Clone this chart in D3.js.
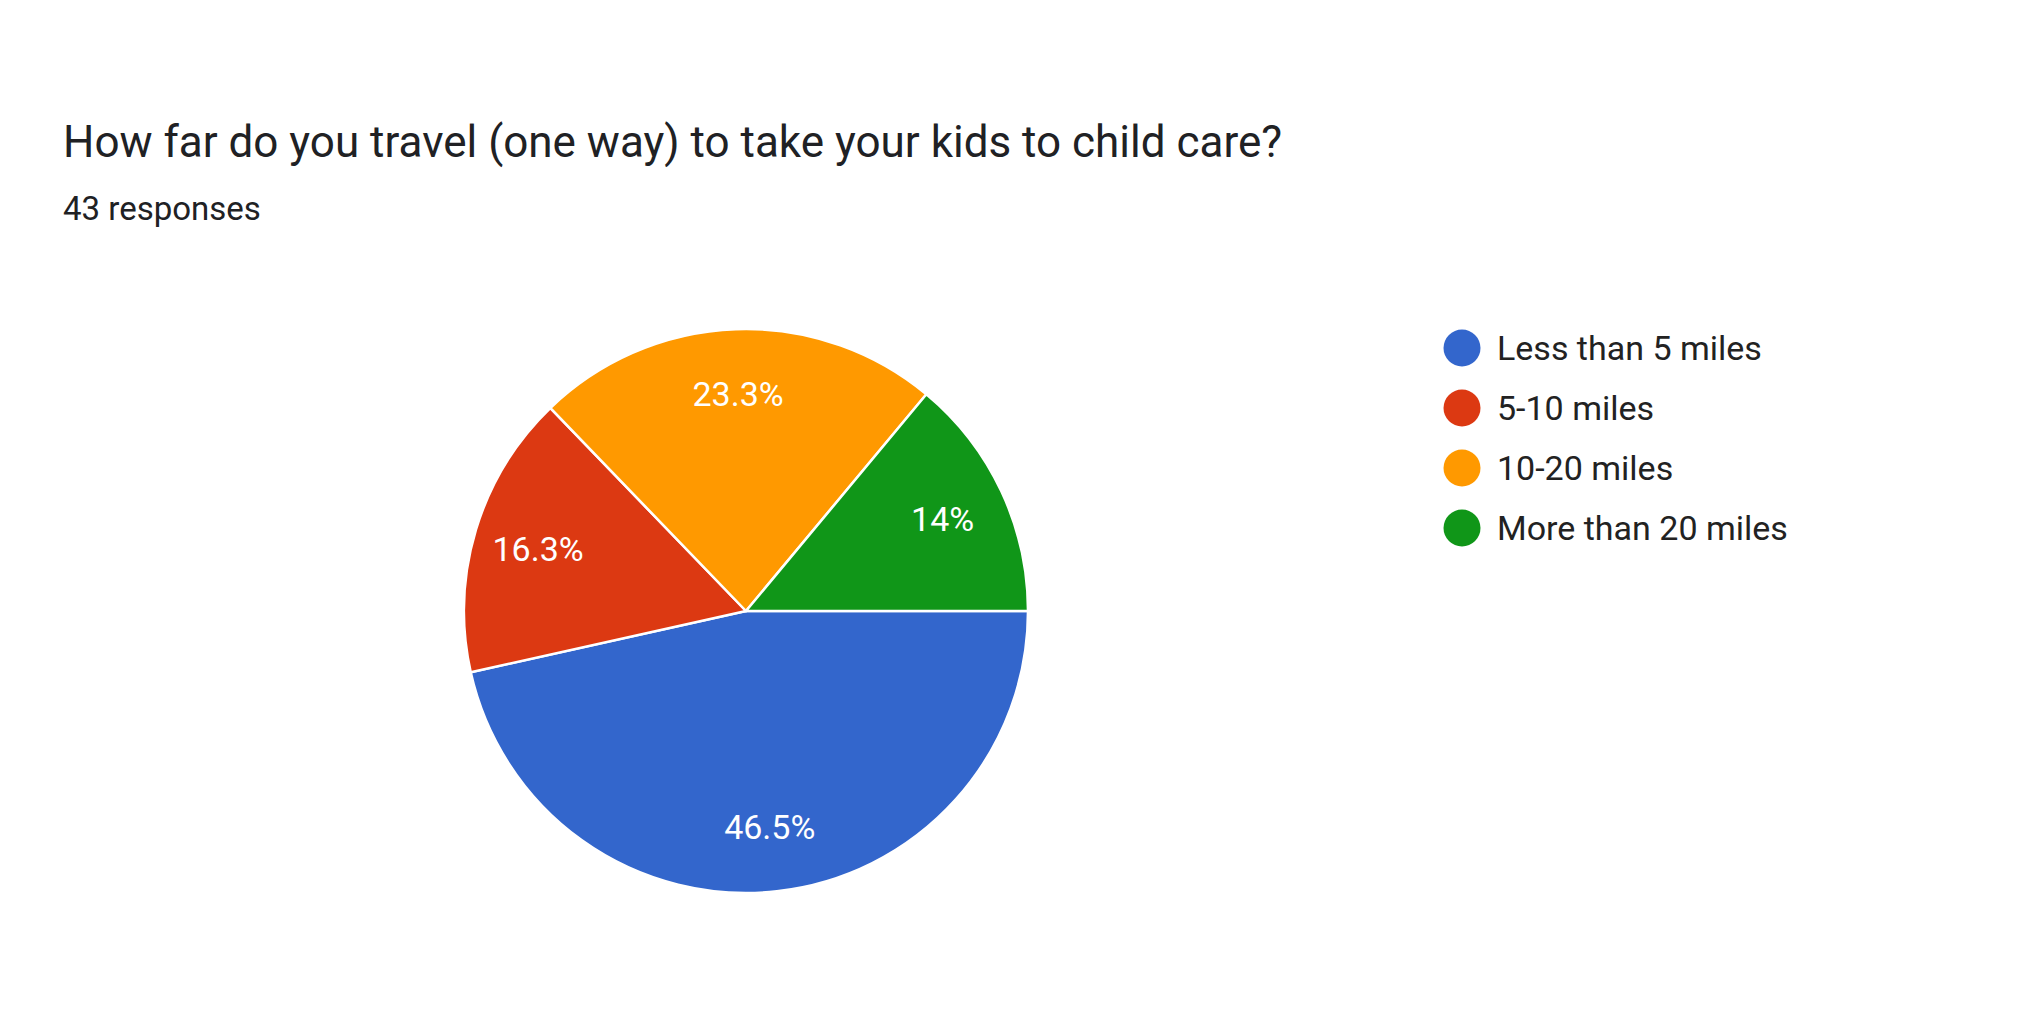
<!DOCTYPE html><html><head><meta charset="utf-8">
<script src="https://cdn.jsdelivr.net/npm/d3@7"></script>
<style>body{margin:0;background:#fff}text{font-family:Roboto,Arial,sans-serif}</style></head><body>
<svg id="c" width="2020" height="1026"></svg>
<script>
const categories=["Less than 5 miles","5-10 miles","10-20 miles","More than 20 miles"];
const counts=[20,7,10,6];
const labels=["46.5%","16.3%","23.3%","14%"];
const colors=["#3366cc","#dc3912","#ff9900","#109618"];
const svg=d3.select("#c");
svg.append("text").attr("x",63).attr("y",157).attr("font-size",44).attr("fill","#202124").text("How far do you travel (one way) to take your kids to child care?");
svg.append("text").attr("x",63).attr("y",220).attr("font-size",33).attr("fill","#202124").text("43 responses");
const cx=746,cy=611,r=282;
const pie=d3.pie().sort(null).startAngle(Math.PI/2).endAngle(Math.PI/2+2*Math.PI);
const arcs=pie(counts);
const arc=d3.arc().innerRadius(0).outerRadius(r);
const lab=d3.arc().innerRadius(r*0.77).outerRadius(r*0.77);
const g=svg.append("g").attr("transform",`translate(${cx},${cy})`);
g.selectAll("path").data(arcs).join("path").attr("d",arc).attr("fill",(d,i)=>colors[i]).attr("stroke","#fff").attr("stroke-width",2.5);
g.selectAll("text").data(arcs).join("text").attr("transform",d=>`translate(${lab.centroid(d)})`)
 .attr("text-anchor","middle").attr("dy","0.36em").attr("font-size",34).attr("fill","#fff").text((d,i)=>labels[i]);
const lg=svg.append("g");
categories.forEach((c,i)=>{
 const y=348+i*60;
 lg.append("circle").attr("cx",1462).attr("cy",y).attr("r",18.5).attr("fill",colors[i]);
 lg.append("text").attr("x",1497).attr("y",y).attr("dy","0.36em").attr("font-size",34).attr("fill","#222").text(c);
});
</script></body></html>
